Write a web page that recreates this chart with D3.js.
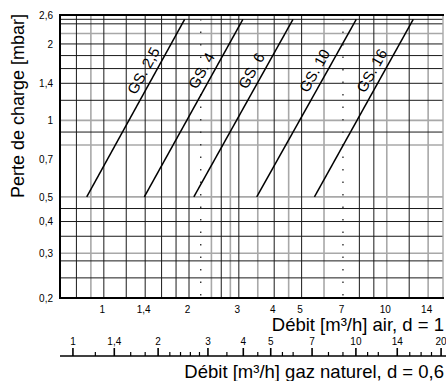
<!DOCTYPE html>
<html>
<head>
<meta charset="utf-8">
<script src="https://cdn.jsdelivr.net/npm/d3@7"></script>
<style>
  body { margin: 0; background: #fff; }
  svg { display: block; font-family: "Liberation Sans", Arial, sans-serif; }
</style>
</head>
<body>
<div id="chart"></div>
<script>
// Data
const pressureTicks = [0.2, 0.3, 0.4, 0.5, 0.7, 1, 1.4, 2, 2.6];
const airTicks = [1, 1.4, 2, 3, 4, 5, 7, 10, 14];
const gasTicks = [1, 1.4, 2, 3, 4, 5, 7, 10, 14, 20];
const gasMinorTicks = [1.2, 1.6, 1.8, 2.2, 2.4, 2.6, 2.8, 3.5, 4.5, 5.5, 6, 8, 9, 11, 12, 15.5, 17, 18.5];

const gridAirBlack = [0.8, 1, 1.2, 1.4, 1.6, 1.8, 2, 2.6, 3, 4, 5, 8, 9, 12];
const gridAirGray = [0.9, 2.4, 2.8, 3.5, 4.5, 6, 10, 14];
const gridAirDotted = [2.2, 7];
const gridPressureBlack = [2.5, 2.4, 2, 1.8, 1.6, 1.4, 1.2, 0.9, 0.45, 0.4, 0.35, 0.28, 0.24];
const gridPressureGray = [2.2, 1, 0.8, 0.5, 0.3];

const gsLabels = ["GS. 2,5", "GS. 4", "GS. 6", "GS. 10", "GS. 16"];
const pressureSpan = [0.5, 2.5];            // mbar at the two ends of each line
const flowAtLow = [0.87, 1.39, 2.08, 3.47, 5.55];   // air m3/h at 0.5 mbar
const flowAtHigh = [1.93, 3.10, 4.66, 7.80, 12.4];  // air m3/h at 2.5 mbar

const gasDensity = 0.6;

const width = 446, height = 381;
const m = { left: 60, right: 443, top: 15, bottom: 298 };

const x = d3.scaleLog().domain([0.7, 15.8]).range([m.left, m.right]);
const k = Math.sqrt(1 / gasDensity);
const xGas = d3.scaleLog().domain(x.domain().map(d => d * k)).range([m.left, m.right]);
const y = d3.scaleLog().domain([0.2, 2.6]).range([m.bottom, m.top]);

const fmt = d => String(d).replace('.', ',');

const svg = d3.select("#chart").append("svg")
  .attr("width", width)
  .attr("height", height);

// Grid
const grid = svg.append("g");

grid.append("g").selectAll("line")
  .data(gridAirGray)
  .join("line")
  .attr("x1", d => x(d)).attr("x2", d => x(d))
  .attr("y1", m.top).attr("y2", m.bottom)
  .attr("stroke", "#a8a8a8").attr("stroke-width", 1.6);

grid.append("g").selectAll("line")
  .data(gridPressureGray)
  .join("line")
  .attr("x1", m.left).attr("x2", m.right)
  .attr("y1", d => y(d)).attr("y2", d => y(d))
  .attr("stroke", "#a8a8a8").attr("stroke-width", 1.6);

grid.append("g").selectAll("line")
  .data(gridAirBlack)
  .join("line")
  .attr("x1", d => x(d)).attr("x2", d => x(d))
  .attr("y1", m.top).attr("y2", m.bottom)
  .attr("stroke", "#1a1a1a").attr("stroke-width", 1);

grid.append("g").selectAll("line")
  .data(gridPressureBlack)
  .join("line")
  .attr("x1", m.left).attr("x2", m.right)
  .attr("y1", d => y(d)).attr("y2", d => y(d))
  .attr("stroke", "#1a1a1a").attr("stroke-width", 1);

grid.append("g").selectAll("line")
  .data(gridAirDotted)
  .join("line")
  .attr("x1", d => x(d)).attr("x2", d => x(d))
  .attr("y1", m.top + 4).attr("y2", m.bottom)
  .attr("stroke", "#333").attr("stroke-width", 1.4)
  .attr("stroke-dasharray", "1.5 11");

// right edge
grid.append("line")
  .attr("x1", m.right).attr("x2", m.right)
  .attr("y1", m.top).attr("y2", m.bottom)
  .attr("stroke", "#a8a8a8").attr("stroke-width", 1.4);

// Frame: top, left, bottom
svg.append("path")
  .attr("d", `M${m.right + 1},${m.top}H${m.left}V${m.bottom}H${m.right + 1}`)
  .attr("fill", "none")
  .attr("stroke", "#000")
  .attr("stroke-width", 2);

// GS lines
const lines = gsLabels.map((name, i) => ({
  name,
  x1: x(flowAtLow[i]), y1: y(pressureSpan[0]),
  x2: x(flowAtHigh[i]), y2: y(pressureSpan[1])
}));

svg.append("g").selectAll("line")
  .data(lines)
  .join("line")
  .attr("x1", d => d.x1).attr("y1", d => d.y1)
  .attr("x2", d => d.x2).attr("y2", d => d.y2)
  .attr("stroke", "#000")
  .attr("stroke-width", 1.5);

svg.append("g").selectAll("text")
  .data(lines)
  .join("text")
  .attr("transform", d => {
    const t = 0.68;
    const px = d.x1 + (d.x2 - d.x1) * t;
    const py = d.y1 + (d.y2 - d.y1) * t;
    const a = Math.atan2(d.y2 - d.y1, d.x2 - d.x1) * 180 / Math.PI;
    return `translate(${px},${py}) rotate(${a})`;
  })
  .attr("dy", -6)
  .attr("text-anchor", "middle")
  .attr("font-size", 15)
  .attr("fill", "#000")
  .text(d => d.name);

// Axes
const yAxis = svg.append("g")
  .attr("transform", `translate(${m.left},0)`)
  .call(d3.axisLeft(y).tickValues(pressureTicks).tickSize(0).tickPadding(7).tickFormat(fmt));
yAxis.select(".domain").remove();
yAxis.selectAll("text").attr("font-size", 10).attr("fill", "#000");

const xAxis = svg.append("g")
  .attr("transform", `translate(0,${m.bottom})`)
  .call(d3.axisBottom(x).tickValues(airTicks).tickSize(0).tickPadding(8).tickFormat(fmt));
xAxis.select(".domain").remove();
xAxis.selectAll("text").attr("font-size", 10).attr("fill", "#000").attr("dx", -2);

const gasY = 356;
svg.append("line")
  .attr("x1", m.left).attr("x2", width)
  .attr("y1", gasY).attr("y2", gasY)
  .attr("stroke", "#000").attr("stroke-width", 1.6);

const gasAxis = svg.append("g")
  .attr("transform", `translate(0,${gasY})`)
  .call(d3.axisTop(xGas).tickValues(gasTicks).tickSize(8).tickPadding(3).tickFormat(fmt));
gasAxis.select(".domain").remove();
gasAxis.selectAll("line").attr("stroke", "#000").attr("stroke-width", 1.6);
gasAxis.selectAll("text").attr("font-size", 10).attr("fill", "#000");

const gasMinor = svg.append("g")
  .attr("transform", `translate(0,${gasY})`)
  .call(d3.axisTop(xGas).tickValues(gasMinorTicks).tickSize(4).tickFormat(""));
gasMinor.select(".domain").remove();
gasMinor.selectAll("line").attr("stroke", "#000").attr("stroke-width", 1.2);

// Titles
svg.append("text")
  .attr("transform", `translate(24,${(m.top + 197) / 2}) rotate(-90)`)
  .attr("text-anchor", "middle")
  .attr("font-size", 18)
  .text("Perte de charge [mbar]");

svg.append("text")
  .attr("x", 444).attr("y", 331)
  .attr("text-anchor", "end")
  .attr("font-size", 18.5)
  .text("Débit [m³/h] air, d = 1");

svg.append("text")
  .attr("x", 444).attr("y", 378)
  .attr("text-anchor", "end")
  .attr("font-size", 18.5)
  .text("Débit [m³/h] gaz naturel, d = 0,6");
</script>
</body>
</html>
